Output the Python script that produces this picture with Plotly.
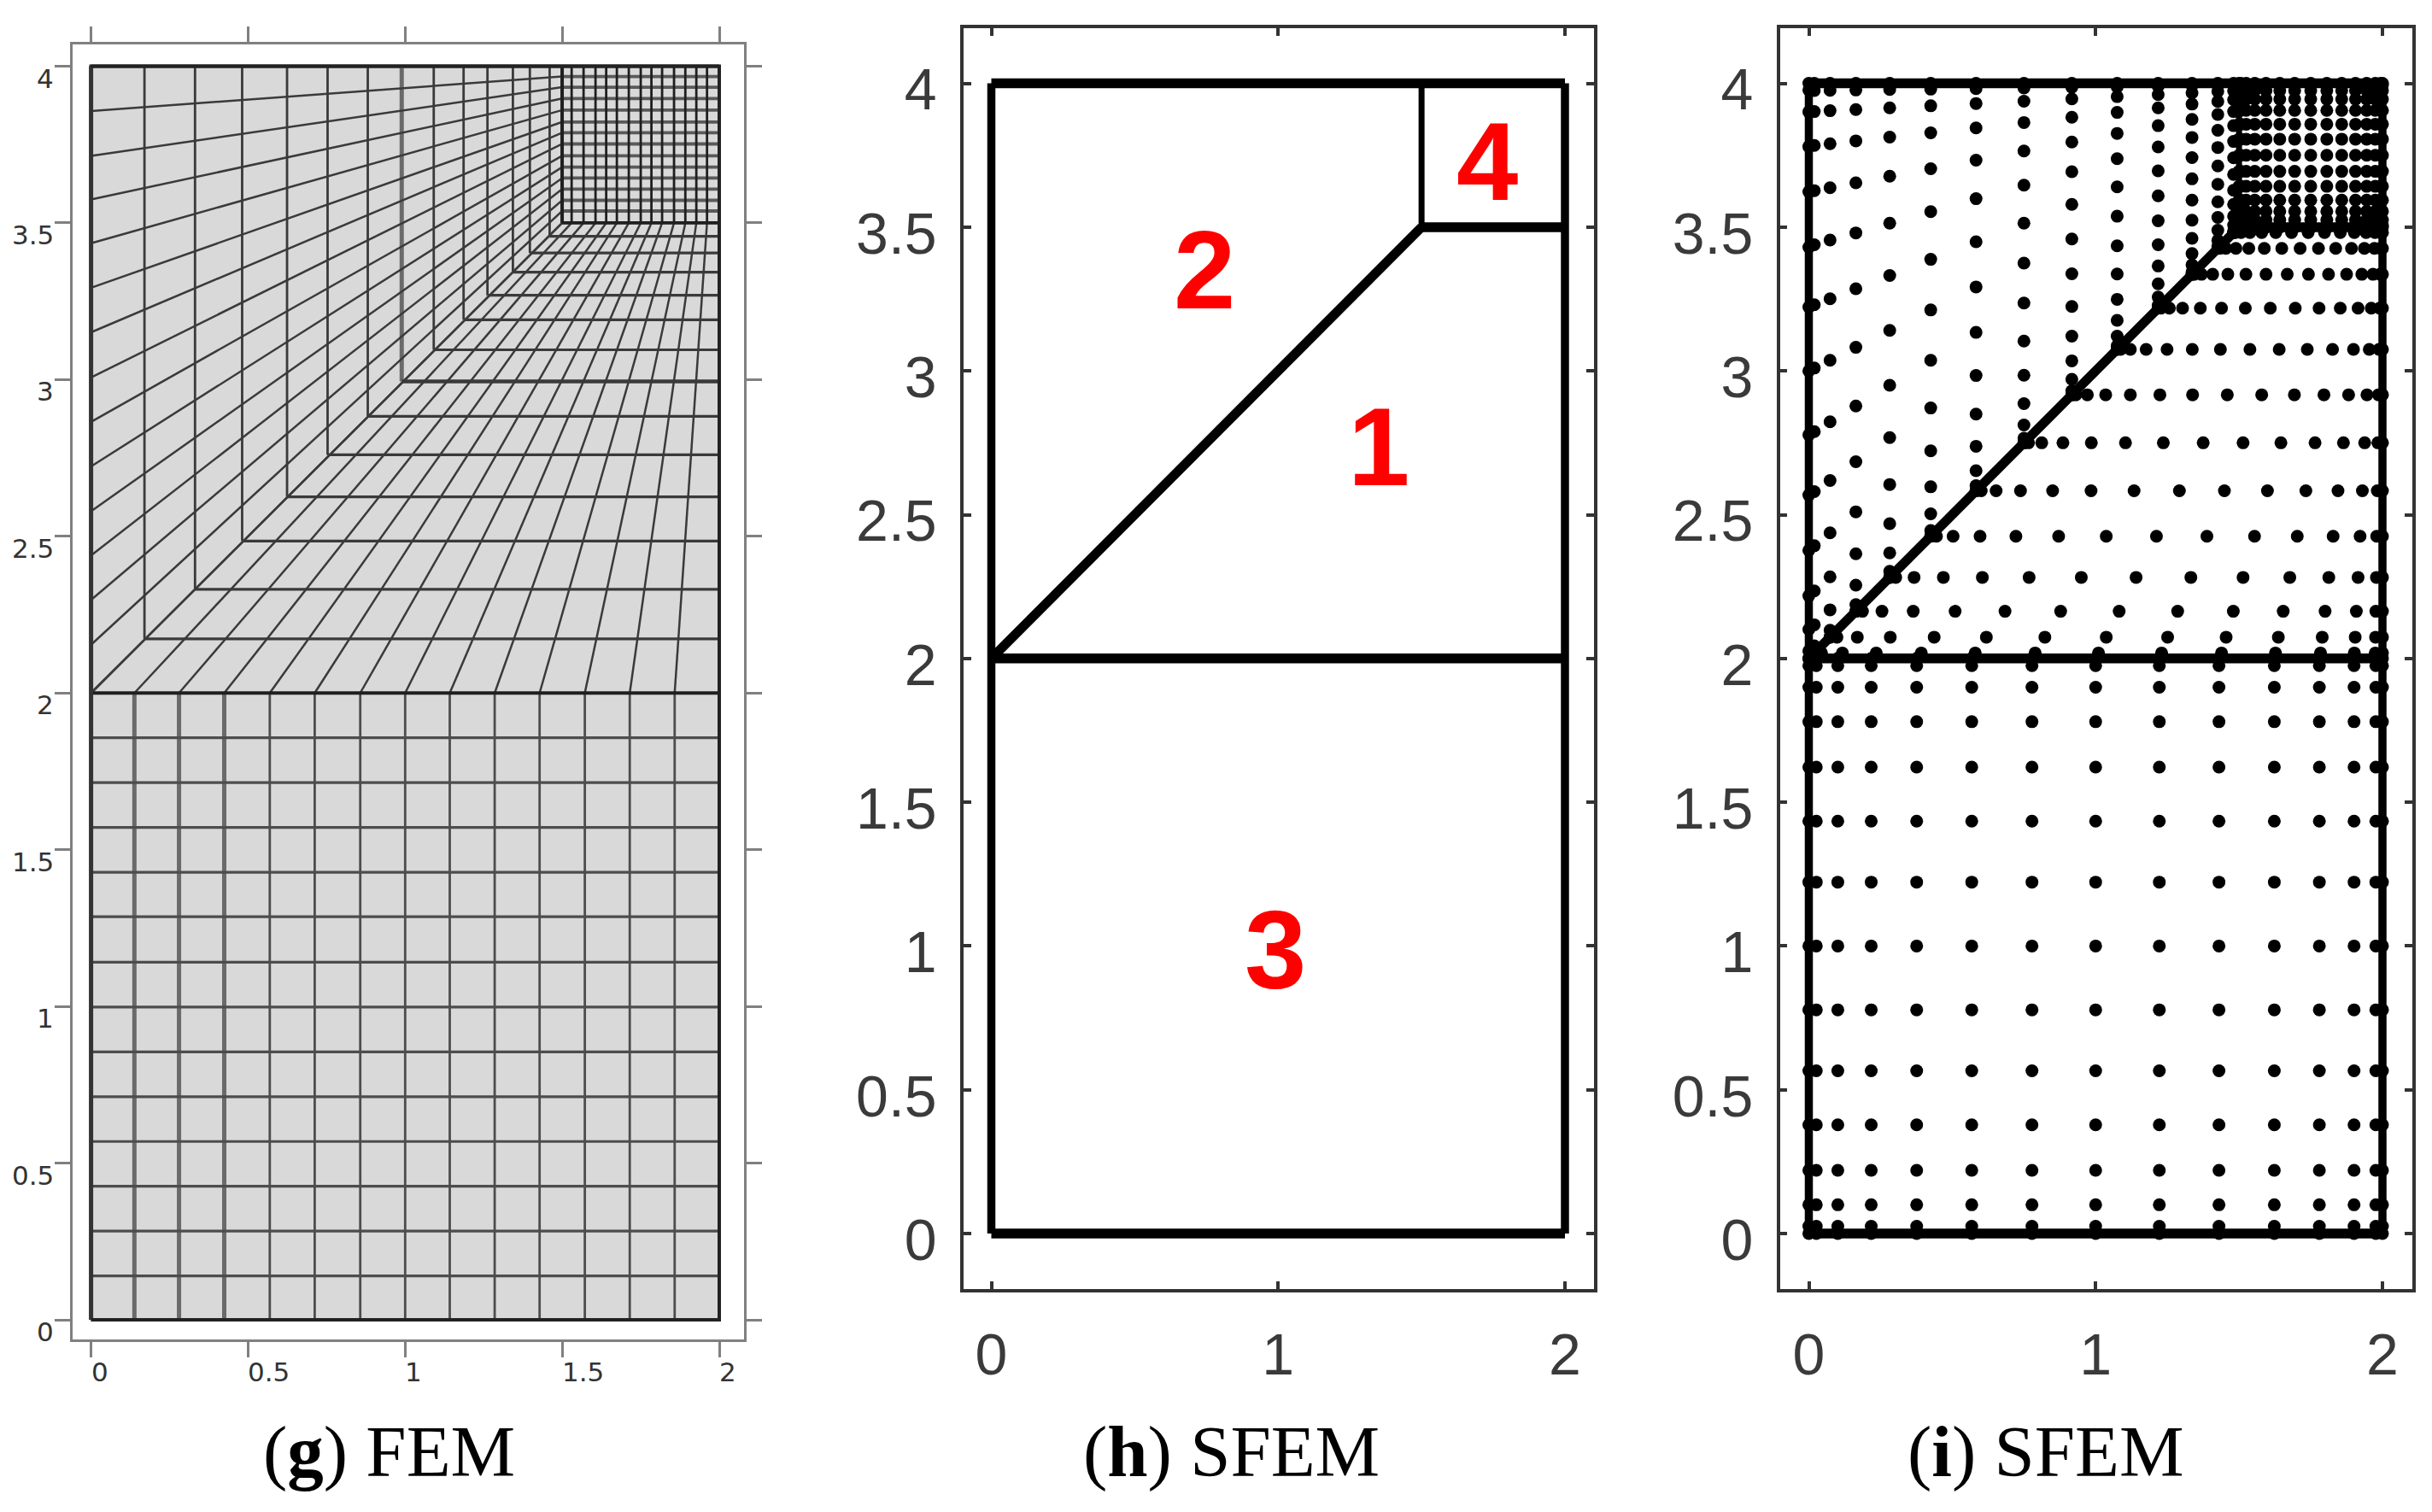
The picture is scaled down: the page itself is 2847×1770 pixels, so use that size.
import plotly.graph_objects as go

W, H = 2847, 1770

tick_x_g = [0, 0.5, 1, 1.5, 2]
tick_y = [0, 0.5, 1, 1.5, 2, 2.5, 3, 3.5, 4]
tick_x_sfem = [0, 1, 2]
tick_y_text = ["0", "0.5", "1", "1.5", "2", "2.5", "3", "3.5", "4"]
tick_x_g_text = ["0", "0.5", "1", "1.5", "2"]

# panel g, FEM mesh lines
low_x = [0, 0.138, 0.28, 0.424, 0.569, 0.712, 0.857, 1.0, 1.142, 1.285, 1.428, 1.572, 1.715, 1.858, 2.0]
low_y = [2.0, 1.857, 1.714, 1.571, 1.428, 1.286, 1.141, 0.998, 0.855, 0.712, 0.569, 0.426, 0.283, 0.14, 0]
corner_x = [0.17, 0.331, 0.481, 0.624, 0.753, 0.881, 0.989, 1.091, 1.186, 1.262, 1.343, 1.397, 1.46, 1.498]
corner_y = [2.173, 2.331, 2.485, 2.626, 2.76, 2.883, 2.994, 3.095, 3.191, 3.269, 3.343, 3.404, 3.457, 3.501]
left_y = [4, 3.857, 3.714, 3.575, 3.435, 3.293, 3.151, 3.007, 2.865, 2.723, 2.58, 2.439, 2.297, 2.154, 2]
sq_x = [1.5, 1.53, 1.568, 1.606, 1.64, 1.674, 1.712, 1.75, 1.784, 1.818, 1.856, 1.892, 1.927, 1.961, 2.0]
sq_y = [4, 3.967, 3.933, 3.897, 3.86, 3.822, 3.788, 3.752, 3.714, 3.678, 3.643, 3.608, 3.572, 3.538, 3.5]
thick_x = [0.138, 0.28, 0.424]

# panel h, regions
edge_x = [0, 2, 2, 0, 0]
edge_y = [0, 0, 4, 4, 0]
region_text = ["1", "2", "3", "4"]
region_x = [1.35, 0.743, 0.99, 1.73]
region_y = [2.735, 3.35, 0.985, 3.729]

# panel i, node rows
node_x = [0, 0.026, 0.101, 0.2175, 0.376, 0.568, 0.778, 1.0, 1.222, 1.43, 1.623, 1.78, 1.901, 1.977, 2.0]
node_y = [0, 0.025, 0.1, 0.22, 0.378, 0.566, 0.778, 1.0, 1.222, 1.434, 1.622, 1.78, 1.9, 1.975, 2.0]
top_x = [1.5, 1.506, 1.525, 1.555, 1.594, 1.642, 1.694, 1.75, 1.806, 1.858, 1.906, 1.945, 1.975, 1.994, 2.0]
top_y = [3.5, 3.506, 3.525, 3.555, 3.594, 3.642, 3.694, 3.75, 3.806, 3.858, 3.906, 3.945, 3.975, 3.994, 4.0]
row_y = [2.019, 2.074, 2.164, 2.282, 2.425, 2.583, 2.75, 2.917, 3.075, 3.218, 3.336, 3.426, 3.481]
rows = [
    [0.019, 0.044, 0.117, 0.235, 0.392, 0.58, 0.789, 1.01, 1.23, 1.439, 1.627, 1.784, 1.902, 1.975, 2],
    [0.074, 0.098, 0.169, 0.284, 0.437, 0.619, 0.823, 1.037, 1.251, 1.455, 1.637, 1.79, 1.905, 1.976, 2],
    [0.164, 0.187, 0.255, 0.364, 0.51, 0.684, 0.878, 1.082, 1.286, 1.48, 1.654, 1.8, 1.909, 1.977, 2],
    [0.282, 0.303, 0.367, 0.469, 0.605, 0.768, 0.95, 1.141, 1.332, 1.514, 1.677, 1.813, 1.915, 1.979, 2],
    [0.425, 0.445, 0.503, 0.597, 0.722, 0.871, 1.037, 1.212, 1.388, 1.554, 1.703, 1.828, 1.922, 1.98, 2],
    [0.583, 0.601, 0.653, 0.738, 0.85, 0.984, 1.134, 1.292, 1.449, 1.599, 1.733, 1.845, 1.93, 1.982, 2],
    [0.75, 0.766, 0.812, 0.886, 0.985, 1.104, 1.236, 1.375, 1.514, 1.646, 1.765, 1.864, 1.938, 1.984, 2],
    [0.917, 0.931, 0.971, 1.035, 1.121, 1.224, 1.338, 1.459, 1.579, 1.693, 1.796, 1.882, 1.946, 1.986, 2],
    [1.075, 1.087, 1.121, 1.176, 1.249, 1.337, 1.435, 1.538, 1.64, 1.738, 1.826, 1.899, 1.954, 1.988, 2],
    [1.218, 1.228, 1.257, 1.303, 1.365, 1.439, 1.522, 1.609, 1.696, 1.779, 1.853, 1.915, 1.961, 1.99, 2],
    [1.336, 1.344, 1.369, 1.408, 1.461, 1.524, 1.594, 1.668, 1.742, 1.812, 1.875, 1.928, 1.967, 1.992, 2],
    [1.426, 1.433, 1.454, 1.489, 1.534, 1.588, 1.649, 1.713, 1.777, 1.837, 1.892, 1.937, 1.972, 1.993, 2],
    [1.481, 1.487, 1.507, 1.538, 1.579, 1.628, 1.683, 1.741, 1.798, 1.853, 1.902, 1.943, 1.974, 1.994, 2],
]


def segs(pairs):
    xs, ys = [], []
    for x0, y0, x1, y1 in pairs:
        xs += [x0, x1, None]
        ys += [y0, y1, None]
    return xs, ys


def add_lines(pairs, color, width, ax):
    xs, ys = segs(pairs)
    fig.add_trace(go.Scatter(x=xs, y=ys, mode="lines", line=dict(color=color, width=width),
                             xaxis="x" + ax, yaxis="y" + ax, showlegend=False, hoverinfo="skip"))


def axes(ax, frame, data, tickx, ticky, line_color, line_w, ticks, ticklen, labels):
    # frame = left,right,top,bottom px of the box, data = px of x=0,x=2,y=4,y=0
    left, right, top, bottom = frame
    x0, x2, y4, y0 = data
    ux = (x2 - x0) / 2
    uy = (y0 - y4) / 4
    common = dict(showgrid=False, zeroline=False, showline=True, mirror="allticks", linecolor=line_color,
                  linewidth=line_w, ticks=ticks, ticklen=ticklen, tickcolor=line_color, tickwidth=line_w,
                  tickmode="array", showticklabels=labels)
    common["tickfont"] = dict(family="Liberation Sans", size=68, color="#3a3a3a")
    fig.update_layout({
        "xaxis" + ax: dict(domain=[left / W, right / W], range=[(left - x0) / ux, (right - x0) / ux],
                           tickvals=tickx, anchor="y" + ax, ticklabelstandoff=15, **common),
        "yaxis" + ax: dict(domain=[1 - bottom / H, 1 - top / H], range=[(y0 - bottom) / uy, (y0 - top) / uy],
                           tickvals=ticky, ticktext=tick_y_text, anchor="x" + ax, ticklabelstandoff=14,
                           ticklabelshift=7, **common),
    })


fig = go.Figure()

# g: FEM mesh
fig.add_trace(go.Scatter(x=edge_x, y=edge_y, mode="lines", fill="toself", fillcolor="#d9d9d9",
                         line=dict(color="#222222", width=4), xaxis="x", yaxis="y",
                         showlegend=False, hoverinfo="skip"))
mesh_col = "#3a3a3a"
add_lines([(a, 0, a, 2) for a in low_x[1:-1] if a not in thick_x], "#4d4d4d", 2.8, "")
add_lines([(a, 0, a, 2) for a in thick_x], "#6a6a6a", 5, "")
add_lines([(0, b, 2, b) for b in low_y[1:-1]], "#4d4d4d", 3.2, "")
for cx, cy in zip(corner_x, corner_y):
    w = 5 if cx == 0.989 else 2.8
    col = "#6a6a6a" if cx == 0.989 else mesh_col
    add_lines([(cx, cy, cx, 4)], col, w, "")
    add_lines([(cx, cy, 2, cy)], mesh_col, 3.2 if cx != 0.989 else 4.5, "")
add_lines(list(zip([0] * len(left_y), left_y, [1.5] * len(sq_y), sq_y)), mesh_col, 2.5, "")
add_lines(list(zip(low_x, [2] * len(low_x), sq_x, [3.5] * len(sq_x))), mesh_col, 2.5, "")
add_lines([(1.5, b, 2, b) for b in sq_y[1:-1]], "#5a5a5a", 3.8, "")
add_lines([(a, 3.5, a, 4) for a in sq_x[1:-1]], "#1f1f1f", 2.8, "")
add_lines([(1.5, 3.5, 2, 3.5), (1.5, 3.5, 1.5, 4), (0, 2, 2, 2)], "#1f1f1f", 3.8, "")
add_lines([(0, 0, 0, 4)], "#333333", 5, "")
add_lines([(0, 0, 2, 0), (0, 4, 2, 4), (2, 0, 2, 4)], "#222222", 4, "")

# h and i: domain outline
for ax in ["2", "3"]:
    add_lines([(0, 0, 2, 0), (0, 2, 2, 2), (0, 4, 2, 4), (1.5, 3.5, 2, 3.5)], "black", 11.5, ax)
    add_lines([(0, 0, 0, 4), (2, 0, 2, 4)], "black", 9.5, ax)
    add_lines([(1.5, 3.5, 1.5, 4)], "black", 7, ax)
    add_lines([(0, 2, 1.5, 3.5)], "black", 11, ax)

# i: nodes
dots_x, dots_y = [], []
for b in node_y:
    for a in node_x:
        dots_x.append(a)
        dots_y.append(b)
for b in top_y:
    for a in top_x:
        dots_x.append(a)
        dots_y.append(b)
for yy, row in zip(row_y, rows):
    for a in row:
        dots_x.append(a)
        dots_y.append(yy)
    # the mesh above the diagonal mirrors the rows
    for a in row:
        dots_x.append(row[0])
        dots_y.append(a + 2)
for a in node_x:
    dots_x.append(0)
    dots_y.append(a + 2)
fig.add_trace(go.Scatter(x=dots_x, y=dots_y, mode="markers", marker=dict(color="black", size=15),
                         xaxis="x3", yaxis="y3", showlegend=False, hoverinfo="skip"))

axes("", (84.8, 870.6, 52, 1568), (106.6, 842, 77.5, 1545), tick_x_g, tick_y, "#808080", 3, "outside", 18, False)
axes("2", (1128, 1866, 33, 1509), (1160.5, 1832, 97.6, 1444), tick_x_sfem, tick_y, "#333333", 3.5, "inside", 9, True)
axes("3", (2083.6, 2823.8, 33, 1509), (2117.5, 2789, 97.6, 1444), tick_x_sfem, tick_y, "#333333", 3.5, "inside", 9, True)

notes = []
# g tick labels sit off their ticks, to the lower left and lower right
for v, t in zip(tick_x_g, tick_x_g_text):
    notes.append(dict(x=v, y=0, xref="x", yref="y domain", text=t, showarrow=False, xanchor="left", yanchor="top",
                      yshift=-18, xshift=-2, font=dict(family="DejaVu Sans", size=31, color="#333333")))
for v, t in zip(tick_y, tick_y_text):
    notes.append(dict(x=0, y=v, xref="x domain", yref="y", text=t, showarrow=False, xanchor="right", yanchor="top",
                      xshift=-20, yshift=6, font=dict(family="DejaVu Sans", size=31, color="#333333")))
for t, a, b in zip(region_text, region_x, region_y):
    notes.append(dict(x=a, y=b, xref="x2", yref="y2", text="<b>" + t + "</b>", showarrow=False,
                      font=dict(family="Liberation Sans", size=130, color="#ff0000")))
for t, cx in [("(<b>g</b>) FEM", 456), ("(<b>h</b>) SFEM", 1441), ("(<b>i</b>) SFEM", 2395)]:
    notes.append(dict(x=cx / W, y=1 - 1699 / H, xref="paper", yref="paper", text=t, showarrow=False,
                      xanchor="center", yanchor="middle",
                      font=dict(family="Liberation Serif", size=85, color="black")))

fig.update_layout(width=W, height=H, margin=dict(l=0, r=0, t=0, b=0), paper_bgcolor="white",
                  plot_bgcolor="white", showlegend=False, annotations=notes)
fig.write_html("out.html", post_script="document.body.style.margin='0';", config=dict(displayModeBar=False))
